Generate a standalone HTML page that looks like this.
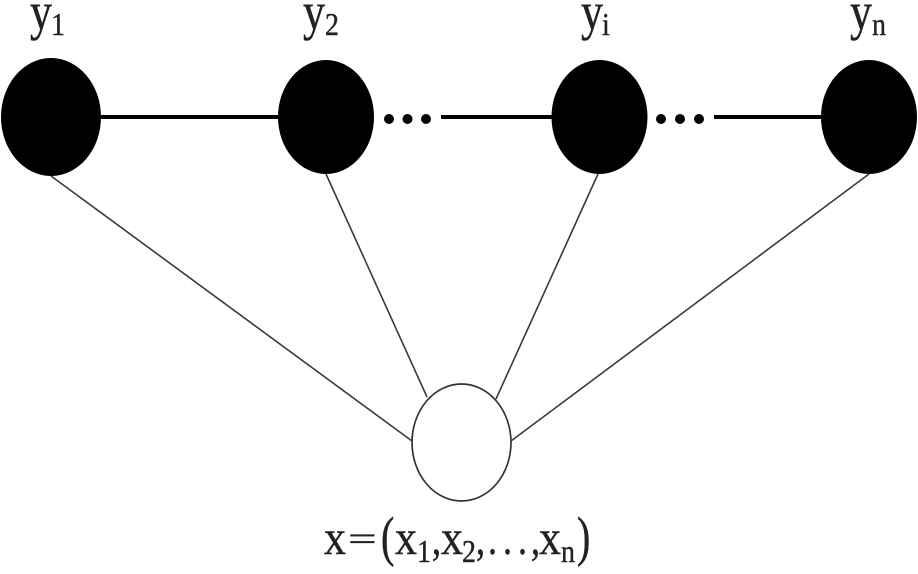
<!DOCTYPE html>
<html>
<head>
<meta charset="utf-8">
<style>
html,body{margin:0;padding:0;background:#fff;width:918px;height:574px;overflow:hidden}
svg{display:block}
text{font-family:"Liberation Serif",serif;fill:#222;stroke:#222;stroke-width:.35}
</style>
</head>
<body>
<svg width="918" height="574" viewBox="0 0 918 574" xmlns="http://www.w3.org/2000/svg">
<rect width="918" height="574" fill="#fff"/>
<g stroke="#3a3a3a" stroke-width="1.6" fill="none">
<line x1="51" y1="176" x2="412" y2="441"/>
<line x1="326" y1="174" x2="427" y2="397"/>
<line x1="598" y1="174" x2="496" y2="399"/>
<line x1="869" y1="174" x2="511" y2="441"/>
</g>
<g stroke="#000" stroke-width="4" fill="none">
<line x1="100" y1="117" x2="278" y2="117"/>
<line x1="441" y1="117" x2="552" y2="117"/>
<line x1="714" y1="117" x2="821" y2="117"/>
</g>
<g fill="#000">
<ellipse cx="51" cy="117" rx="50" ry="59"/>
<ellipse cx="326" cy="117" rx="48" ry="57"/>
<ellipse cx="599.5" cy="117" rx="48" ry="57"/>
<ellipse cx="869" cy="117" rx="48" ry="57"/>
<circle cx="389" cy="119" r="5"/>
<circle cx="407.5" cy="119" r="5"/>
<circle cx="426" cy="119" r="5"/>
<circle cx="661" cy="119" r="5"/>
<circle cx="680" cy="119" r="5"/>
<circle cx="699" cy="119" r="5"/>
</g>
<ellipse cx="461.5" cy="442.5" rx="49.5" ry="58.5" fill="#fff" stroke="#333" stroke-width="1.7"/>

<text transform="translate(30,29) scale(1,1.2)" font-size="44">y</text>
<text transform="translate(51,35) scale(1,1.15)" font-size="28">1</text>
<text transform="translate(303,29) scale(1,1.2)" font-size="44">y</text>
<text transform="translate(325,35) scale(1,1.15)" font-size="28">2</text>
<text transform="translate(581,29) scale(1,1.2)" font-size="44">y</text>
<text transform="translate(602,35) scale(1,1.15)" font-size="28">i</text>
<text transform="translate(850,29) scale(1,1.2)" font-size="44">y</text>
<text transform="translate(872,35) scale(1,1.15)" font-size="28">n</text>

<text transform="translate(324,554) scale(1,1.1)" font-size="44">x</text>
<text transform="translate(348,550) scale(1.5,1)" font-size="34">=</text>
<text transform="translate(381,555) scale(1,1.38)" font-size="40">(</text>
<text transform="translate(395,554) scale(1,1.1)" font-size="44">x</text>
<text transform="translate(417,562) scale(1,1.15)" font-size="28">1</text>
<text transform="translate(432,554) scale(1,1.25)" font-size="36">,</text>
<text transform="translate(441,554) scale(1,1.1)" font-size="44">x</text>
<text transform="translate(462,562) scale(1,1.15)" font-size="28">2</text>
<text transform="translate(476,554) scale(1,1.25)" font-size="36">,</text>
<text transform="translate(488,554) scale(1,1.25)" font-size="36">.</text>
<text transform="translate(503,554) scale(1,1.25)" font-size="36">.</text>
<text transform="translate(518,554) scale(1,1.25)" font-size="36">.</text>
<text transform="translate(531,554) scale(1,1.25)" font-size="36">,</text>
<text transform="translate(539,554) scale(1,1.1)" font-size="44">x</text>
<text transform="translate(561,562) scale(1,1.15)" font-size="28">n</text>
<text transform="translate(577,555) scale(1,1.38)" font-size="40">)</text>
</svg>
</body>
</html>
